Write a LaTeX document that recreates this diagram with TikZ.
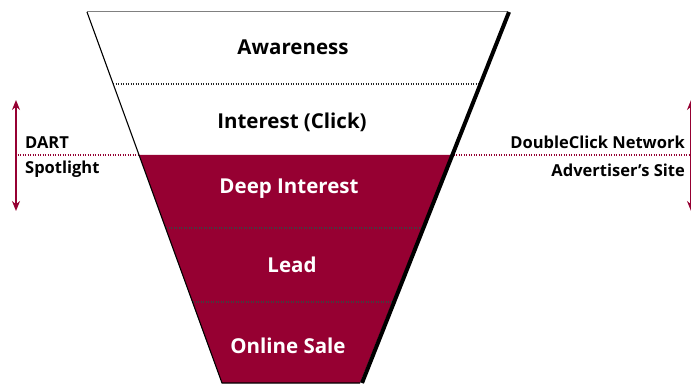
\documentclass[tikz,border=0pt]{standalone}
\usepackage{fontspec}
\setmainfont{Open Sans}
\usetikzlibrary{arrows.meta}
\definecolor{funnelred}{RGB}{150,0,50}
\tikzset{
  stagelabel/.style={font=\fontsize{20.5}{22}\selectfont\bfseries, inner sep=0pt},
  sidelabel/.style={font=\fontsize{16.5}{18}\selectfont\bfseries, inner sep=0pt},
  divider/.style={line width=1.4pt, dash pattern=on 1.2pt off 1.3pt},
  rangearrow/.style={draw=funnelred, line width=1.4pt, {Stealth[length=10pt,width=8pt]}-{Stealth[length=10pt,width=8pt]}}
}
\begin{document}
\begin{tikzpicture}[x=1pt,y=-1pt]
\useasboundingbox[fill=white] (0,0) rectangle (691,385);
% funnel corners
\coordinate (TL) at (87,12);
\coordinate (TR) at (508,12);
\coordinate (ML) at (139,155);
\coordinate (MR) at (451,155);
\coordinate (BL) at (222,383);
\coordinate (BR) at (360,383);
% divider end points
\coordinate (A1) at (113,84);   \coordinate (A2) at (479,84);
\coordinate (C1) at (166,228);  \coordinate (C2) at (422,228);
\coordinate (D1) at (193,302);  \coordinate (D2) at (392,302);
\coordinate (RL) at (15,155);   \coordinate (RR) at (691,155);
% fills
\fill[white] (TL) -- (TR) -- (MR) -- (ML) -- cycle;
\fill[funnelred] (ML) -- (MR) -- (BR) -- (BL) -- cycle;
% red dotted separator
\draw[funnelred, divider] (RL) -- (ML);
\draw[funnelred, divider] (MR) -- (RR);
% other dividers
\draw[black!85, divider] (A1) -- (A2);
\draw[black!75, divider] (C1) -- (C2);
\draw[black!75, divider] (D1) -- (D2);
% outline
\draw[gray, line width=1pt] (TL) -- (TR);
\draw[black, line width=1.1pt] (TL) -- (BL) -- (BR);
\draw[black, line width=4pt] ([xshift=1pt]TR) -- ([xshift=2pt]BR);
% stage labels
\node[stagelabel] (aw) at (293,47) {Awareness};
\node[stagelabel] (in) at (292,122) {Interest (Click)};
\node[stagelabel, white] (di) at (289,189) {Deep Interest};
\node[stagelabel, white] (le) at (292,265) {Lead};
\node[stagelabel, white] (os) at (288,346) {Online Sale};
% side labels
\node[sidelabel, anchor=west] (dart) at (25,143) {DART};
\node[sidelabel, anchor=west] (spot) at (25,169) {Spotlight};
\node[sidelabel, anchor=east] (dcn) at (685,142) {DoubleClick Network};
\node[sidelabel, anchor=east] (adv) at (685,170) {Advertiser's Site};
% range arrows
\coordinate (LT) at (16,100); \coordinate (LB) at (16,211);
\coordinate (RT) at (691,100); \coordinate (RB) at (691,211);
\draw[rangearrow] (LT) -- (LB);
\draw[rangearrow] (RT) -- (RB);
\end{tikzpicture}
\end{document}
